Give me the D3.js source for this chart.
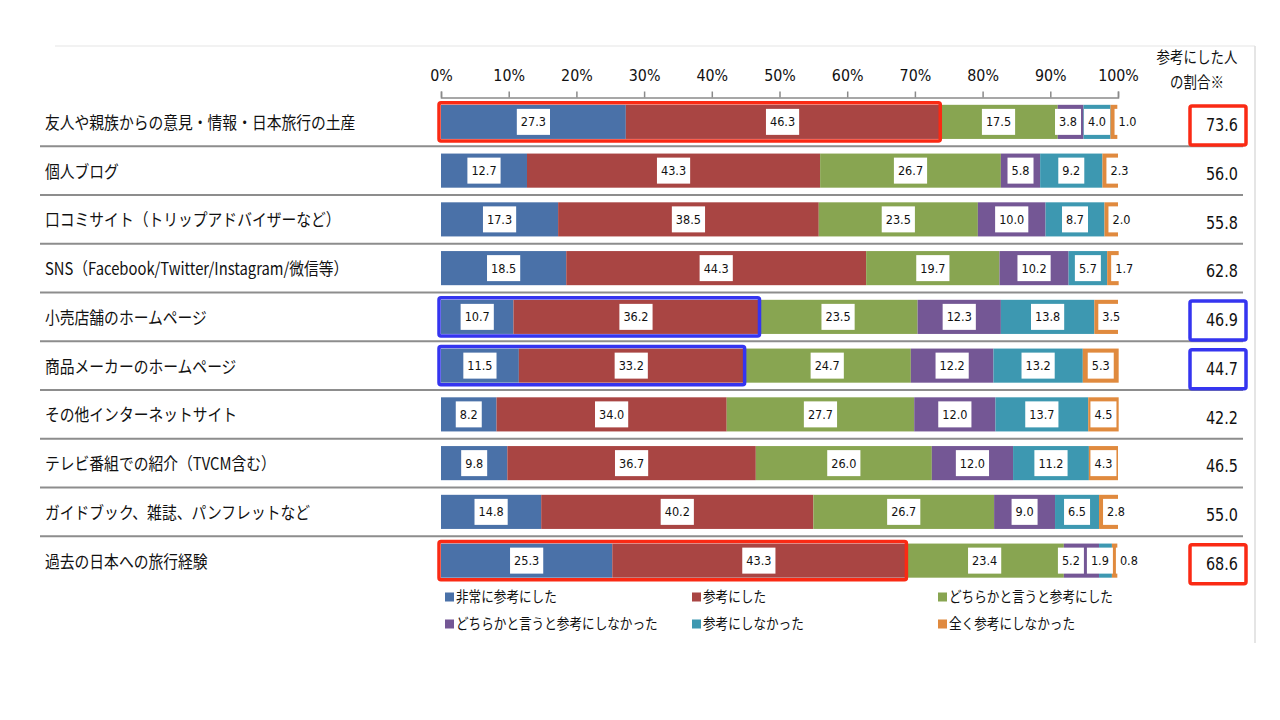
<!DOCTYPE html>
<html>
<head>
<meta charset="utf-8">
<script src="https://cdn.jsdelivr.net/npm/d3@7"></script>
<style>
  body { margin: 0; background: #fff; }
  svg { display: block; }
</style>
</head>
<body>
<div id="chart"></div>
<script>
// Data
const categories = [
    "友人や親族からの意見・情報・日本旅行の土産",
    "個人ブログ",
    "口コミサイト（トリップアドバイザーなど）",
    "SNS（Facebook/Twitter/Instagram/微信等）",
    "小売店舗のホームページ",
    "商品メーカーのホームページ",
    "その他インターネットサイト",
    "テレビ番組での紹介（TVCM含む）",
    "ガイドブック、雑誌、パンフレットなど",
    "過去の日本への旅行経験"
];
const seriesNames = [
    "非常に参考にした",
    "参考にした",
    "どちらかと言うと参考にした",
    "どちらかと言うと参考にしなかった",
    "参考にしなかった",
    "全く参考にしなかった"
];
const veryHelpful     = [27.3, 12.7, 17.3, 18.5, 10.7, 11.5, 8.2, 9.8, 14.8, 25.3];
const helpful         = [46.3, 43.3, 38.5, 44.3, 36.2, 33.2, 34.0, 36.7, 40.2, 43.3];
const ratherHelpful   = [17.5, 26.7, 23.5, 19.7, 23.5, 24.7, 27.7, 26.0, 26.7, 23.4];
const ratherNot       = [3.8, 5.8, 10.0, 10.2, 12.3, 12.2, 12.0, 12.0, 9.0, 5.2];
const notHelpful      = [4.0, 9.2, 8.7, 5.7, 13.8, 13.2, 13.7, 11.2, 6.5, 1.9];
const notAtAll        = [1.0, 2.3, 2.0, 1.7, 3.5, 5.3, 4.5, 4.3, 2.8, 0.8];
const shareHelped     = [73.6, 56.0, 55.8, 62.8, 46.9, 44.7, 42.2, 46.5, 55.0, 68.6];
const tickValues      = [0, 10, 20, 30, 40, 50, 60, 70, 80, 90, 100];
const redRows  = [0, 9];
const blueRows = [4, 5];
const shareHeader = ["参考にした人", "の割合※"];

const colors = ["#4a71a8", "#a94543", "#88a551", "#745795", "#3d98b1", "#e08a3e"];
const allSeries = [veryHelpful, helpful, ratherHelpful, ratherNot, notHelpful, notAtAll];

const width = 1280, height = 720;
const SX = 0.87;  // the source text is horizontally narrow
const jpFont = "'Noto Sans CJK JP', 'Noto Sans', sans-serif";
const numFont = "'DejaVu Sans', sans-serif";

const svg = d3.select("#chart").append("svg")
    .attr("width", width)
    .attr("height", height);

// helper: narrow text anchored at (x, y)
function addText(parent, x, y, str, size, anchor, family, sx = SX) {
    return parent.append("text")
        .attr("transform", `translate(${x},${y}) scale(${sx},1)`)
        .attr("text-anchor", anchor)
        .attr("dy", "0.35em")
        .style("font-family", family)
        .style("font-size", size + "px")
        .attr("fill", "#111")
        .text(str);
}

// frame lines
svg.append("line").attr("x1", 55).attr("x2", 1255).attr("y1", 46).attr("y2", 46)
    .attr("stroke", "#eeeeee").attr("stroke-width", 1.5);
svg.append("line").attr("x1", 1255).attr("x2", 1255).attr("y1", 46).attr("y2", 643)
    .attr("stroke", "#dddddd").attr("stroke-width", 1.5);

// scales
const x = d3.scaleLinear().domain([0, 100]).range([441, 1118]);
const y = d3.scaleBand().domain(categories).range([97.5, 585])
    .paddingInner(0.3).paddingOuter(0.15);
const step = y.step();

// row separators
categories.slice(1).forEach(c => {
    const yy = y(c) - step * 0.15;
    svg.append("line").attr("x1", 40).attr("x2", 1243).attr("y1", yy).attr("y2", yy)
        .attr("stroke", "#8d8d8d").attr("stroke-width", 2);
});

// axis on top
const axis = svg.append("g")
    .attr("transform", "translate(0,97.5)")
    .call(d3.axisTop(x).tickValues(tickValues).tickSize(6).tickPadding(11).tickFormat(d => d + "%"));
axis.select(".domain").attr("stroke", "#8a8a8a").attr("stroke-width", 1.5);
axis.selectAll(".tick line").attr("stroke", "#8a8a8a").attr("stroke-width", 1.5);
axis.selectAll(".tick text")
    .attr("fill", "#111")
    .attr("transform", "scale(0.92,1)")
    .style("font-family", numFont)
    .style("font-size", "15.5px");

// stacked data
const rows = categories.map((c, i) => {
    let acc = 0;
    return allSeries.map((s, k) => {
        const seg = { cat: c, row: i, k: k, value: s[i], x0: acc, x1: acc + s[i] };
        acc += s[i];
        return seg;
    });
});

// bars
const barG = svg.append("g");
rows.forEach(segs => {
    barG.selectAll(null)
        .data(segs)
        .join("rect")
        .attr("x", d => x(d.x0))
        .attr("y", d => y(d.cat))
        .attr("width", d => x(d.x1) - x(d.x0))
        .attr("height", y.bandwidth())
        .attr("fill", d => colors[d.k]);
});

// data labels in white boxes
const labelG = svg.append("g");
rows.forEach(segs => {
    const cy = y(segs[0].cat) + y.bandwidth() / 2;
    const labels = segs.map(d => {
        const mid = (x(d.x0) + x(d.x1)) / 2;
        let cx = mid;
        if (d.k === 5 && d.value < 4) cx = Math.max(mid, x(d.x0) + 17);
        const g = labelG.append("g");
        const box = g.append("rect").attr("fill", "#fff");
        const t = g.append("text")
            .attr("text-anchor", "middle")
            .attr("dy", "0.35em")
            .style("font-family", numFont)
            .style("font-size", "13px")
            .attr("fill", "#111")
            .text(d.value.toFixed(1));
        const w = t.node().getComputedTextLength() * SX + 8;
        return { cx, w, box, t };
    });
    // push crowded labels to the left so boxes do not overlap
    for (let k = labels.length - 2; k >= 0; k--) {
        const a = labels[k], b = labels[k + 1];
        const overlap = (a.cx + a.w / 2) - (b.cx - b.w / 2 - 3);
        if (overlap > 0) a.cx -= overlap;
    }
    labels.forEach(l => {
        l.t.attr("transform", `translate(${l.cx},${cy}) scale(${SX},1)`);
        l.box.attr("x", l.cx - l.w / 2).attr("y", cy - 13).attr("width", l.w).attr("height", 26);
    });
});

// highlight boxes around first two segments
function outline(rowsIdx, color) {
    rowsIdx.forEach(i => {
        const c = categories[i];
        const end = veryHelpful[i] + helpful[i];
        svg.append("rect")
            .attr("x", x(0) - 2)
            .attr("y", y(c) - 2)
            .attr("width", x(end) - x(0) + 3)
            .attr("height", y.bandwidth() + 4)
            .attr("rx", 2)
            .attr("fill", "none")
            .attr("stroke", color)
            .attr("stroke-width", 3.5);
    });
}
outline(redRows, "#fa2a14");
outline(blueRows, "#3535f0");

// category labels
categories.forEach(c => {
    addText(svg, 45, y(c) + y.bandwidth() / 2 + 1, c, 17, "start", jpFont);
});

// share column header
addText(svg, 1197, 58, shareHeader[0], 15.5, "middle", jpFont);
addText(svg, 1197, 83, shareHeader[1], 15.5, "middle", jpFont);

// share values
categories.forEach((c, i) => {
    const cy = y(c) + y.bandwidth() / 2 + 3;
    addText(svg, 1238, cy, shareHelped[i].toFixed(1), 18, "end", numFont, 0.8);
});
function valueBox(rowsIdx, color) {
    rowsIdx.forEach(i => {
        const cy = y(categories[i]) + y.bandwidth() / 2 + 3;
        svg.append("rect")
            .attr("x", 1190).attr("y", cy - 19)
            .attr("width", 56).attr("height", 39)
            .attr("rx", 2)
            .attr("fill", "none")
            .attr("stroke", color)
            .attr("stroke-width", 3.5);
    });
}
valueBox(redRows, "#fa2a14");
valueBox(blueRows, "#3535f0");

// legend
const legendCols = [445, 692, 938];
const legendRows = [597, 624];
seriesNames.forEach((name, k) => {
    const lx = legendCols[k % 3];
    const ly = legendRows[Math.floor(k / 3)];
    svg.append("rect")
        .attr("x", lx).attr("y", ly - 4.5)
        .attr("width", 9).attr("height", 9)
        .attr("fill", colors[k]);
    addText(svg, lx + 11, ly, name, 14.5, "start", jpFont);
});
</script>
</body>
</html>
